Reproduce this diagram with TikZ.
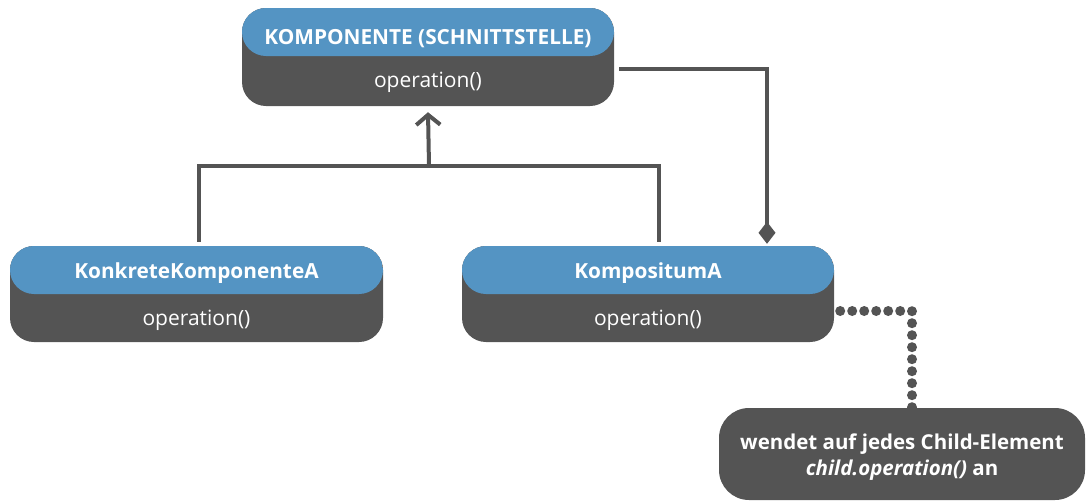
\documentclass[tikz,border=0pt]{standalone}
\usepackage{fontspec}
\setmainfont{Open Sans}
\usetikzlibrary{arrows.meta}

\definecolor{headblue}{HTML}{5494C3}
\definecolor{bodygray}{HTML}{545454}

\tikzset{
  classbox/.style={minimum width=372pt, minimum height=96pt, rounded corners=24pt,
    fill=bodygray, inner sep=0pt,
    path picture={\fill[headblue] (path picture bounding box.north west)
      rectangle ([yshift=-48pt]path picture bounding box.north east);}},
  titletext/.style={text=white, font=\fontsize{20.8}{24}\selectfont\bfseries},
  optext/.style={text=white, font=\fontsize{21}{24}\selectfont},
  notebox/.style={minimum width=366pt, minimum height=92pt, rounded corners=30pt,
    fill=bodygray, inner sep=0pt},
  notetext/.style={text=white, align=center,
    font=\fontsize{20.5}{26}\selectfont\bfseries},
  conn/.style={draw=bodygray, line width=4pt},
  dotted conn/.style={draw=bodygray, line width=10pt, line cap=round,
    dash pattern=on 0pt off 12pt},
}

\begin{document}
\begin{tikzpicture}[x=1pt, y=-1pt]
  \useasboundingbox (0,0) rectangle (1086,501);

  % class boxes
  \node[classbox, minimum height=98pt] (top) at (428,57) {};
  \node[titletext] (toptitle) at (428,38.5) {KOMPONENTE (SCHNITTSTELLE)};
  \node[optext] (topop) at (428,82) {operation()};

  \node[classbox, minimum width=373pt] (left) at (196.5,294) {};
  \node[titletext] (lefttitle) at (196.5,273.5) {KonkreteKomponenteA};
  \node[optext] (leftop) at (196.5,320) {operation()};

  \node[classbox] (mid) at (648,294) {};
  \node[titletext] (midtitle) at (648,273.5) {KompositumA};
  \node[optext] (midop) at (648,320) {operation()};

  % note
  \node[notebox] (note) at (902,454) {};
  \node[notetext] (notebody) at (902,457.5) {wendet auf jedes Child-Element\\
    \textit{child.operation()} an};

  % inheritance
  \coordinate (bus) at (429,166);
  \draw[conn] ([xshift=2.5pt,yshift=4pt]left.north) |- (bus)
    -| ([xshift=11pt,yshift=4pt]mid.north);
  \draw[conn, -{Straight Barb[length=10pt,width=24pt]}] (bus)
    -- ([yshift=-6pt]top.south);

  % composition
  \draw[conn, -{Diamond[length=22pt,width=17pt]}]
    ([xshift=5pt,yshift=-12pt]top.east) -| ([xshift=119pt,yshift=2pt]mid.north);

  % note link
  \draw[dotted conn] ([xshift=6pt,yshift=-17pt]mid.east)
    -| ([xshift=10pt,yshift=-2pt]note.north);
\end{tikzpicture}
\end{document}
